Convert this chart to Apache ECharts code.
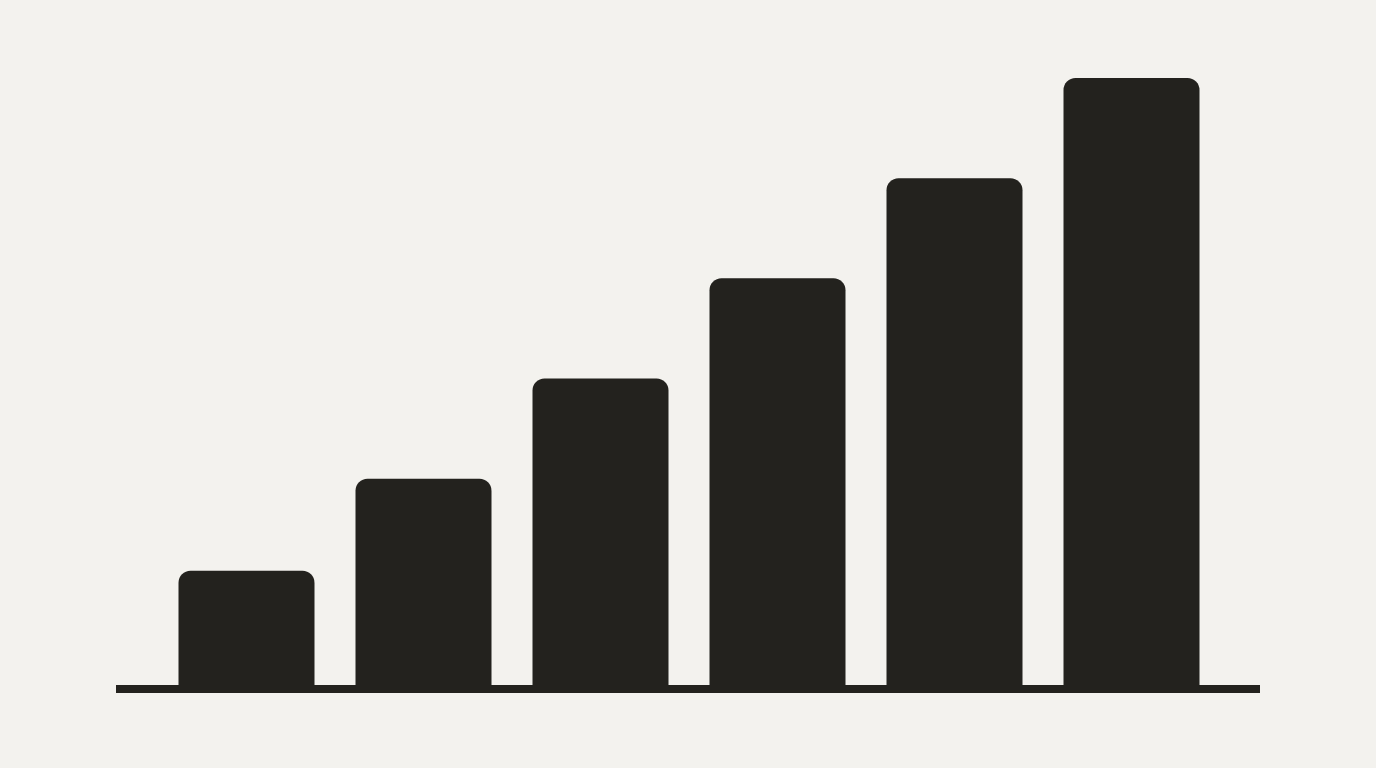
<!DOCTYPE html>
<html>
<head>
<meta charset="utf-8">
<script src="https://cdn.jsdelivr.net/npm/echarts@6/dist/echarts.min.js"></script>
<style>
  html, body { margin: 0; padding: 0; background: #f3f2ee; }
  #main { width: 1376px; height: 768px; }
</style>
</head>
<body>
<div id="main"></div>
<script>
// data (no labels on the chart)
var categories = ['1', '2', '3', '4', '5', '6'];
var values = [1.18, 2.1, 3.1, 4.1, 5.1, 6.1];
var yMax = 6.1;

var barColor = '#23221e';

var chart = echarts.init(document.getElementById('main'));
chart.setOption({
    backgroundColor: '#f3f2ee',
    animation: false,
    grid: [
        { left: 158, right: 156, top: 78, bottom: 79 },
        // wider grid only for the base line
        { left: 116, right: 116, top: 78, bottom: 79 }
    ],
    xAxis: [{
        gridIndex: 0,
        type: 'category',
        data: categories,
        axisLine: { show: false },
        axisTick: { show: false },
        axisLabel: { show: false }
    }, {
        gridIndex: 1,
        type: 'category',
        data: [''],
        axisLine: { show: true, lineStyle: { color: barColor, width: 8, cap: 'butt' } },
        axisTick: { show: false },
        axisLabel: { show: false }
    }],
    yAxis: [{
        gridIndex: 0,
        type: 'value',
        min: 0,
        max: yMax,
        show: false
    }, {
        gridIndex: 1,
        type: 'value',
        min: 0,
        max: yMax,
        show: false
    }],
    series: [{
        type: 'bar',
        xAxisIndex: 0,
        yAxisIndex: 0,
        data: values,
        barWidth: 136,
        itemStyle: {
            color: barColor,
            borderRadius: [12, 12, 0, 0]
        }
    }]
});
</script>
</body>
</html>
